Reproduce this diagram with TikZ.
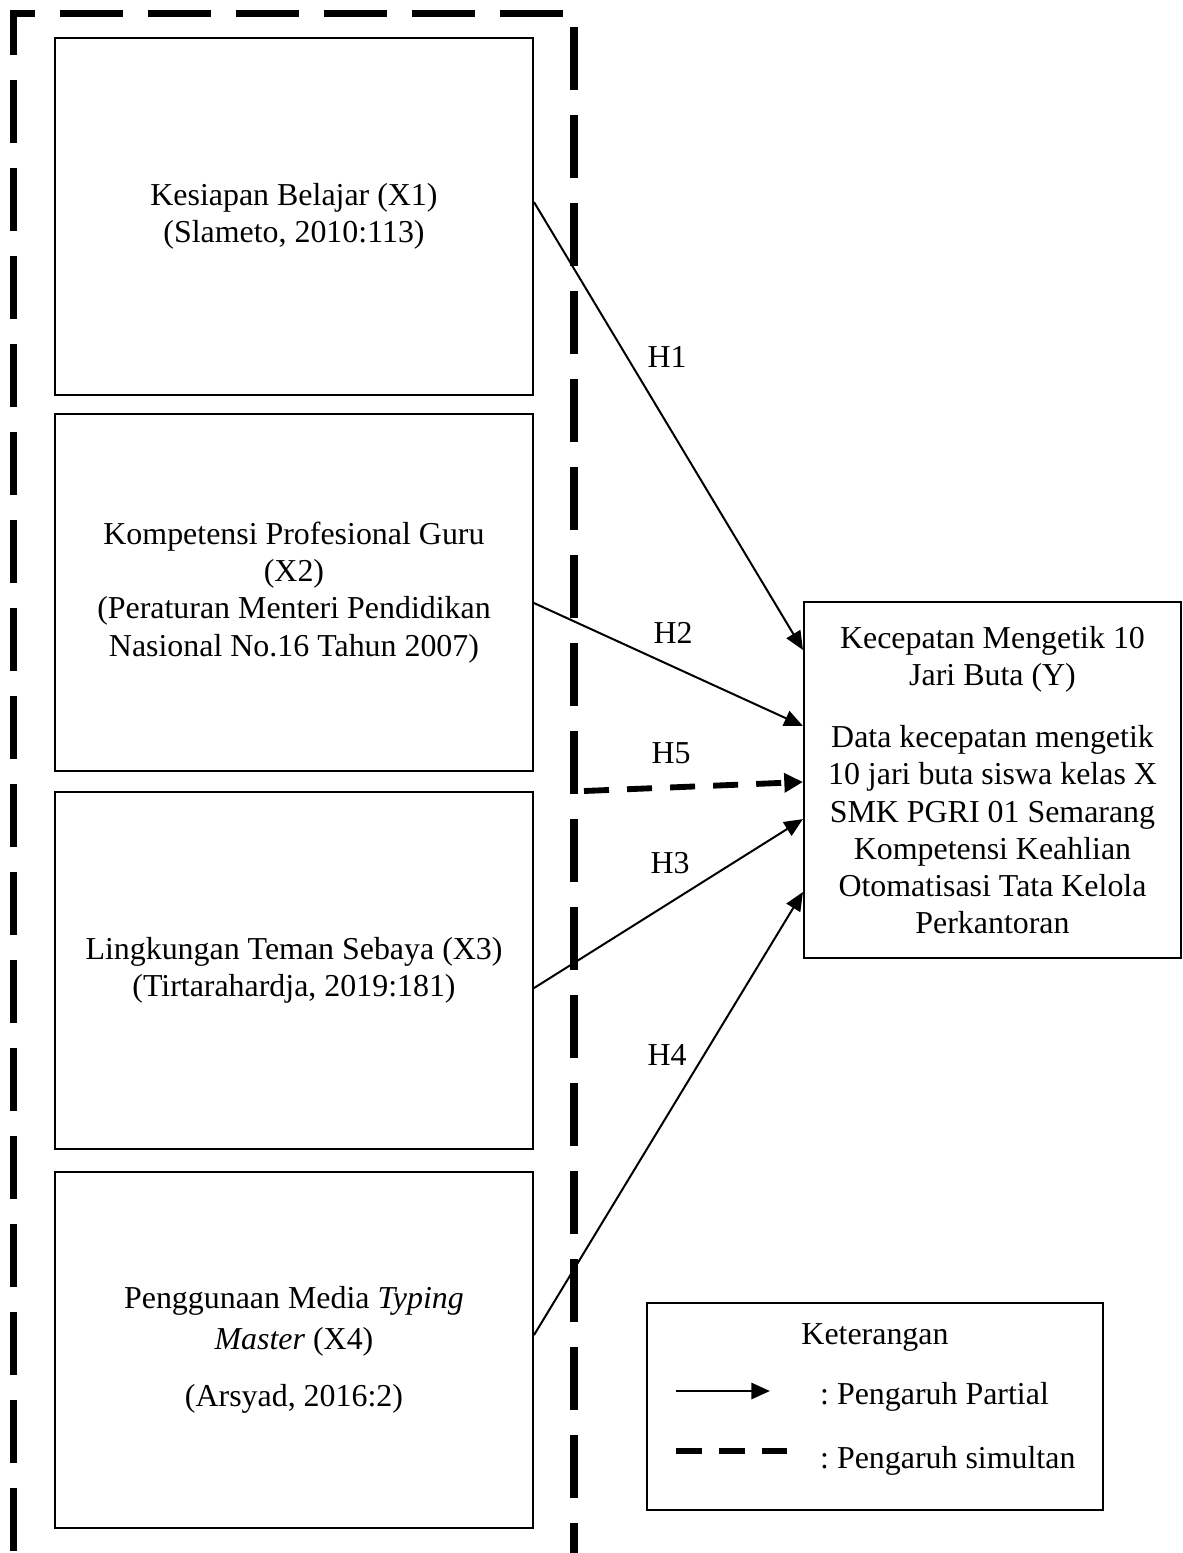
\documentclass[tikz,border=0pt,12pt]{standalone}
\usepackage{fontspec}
\setmainfont{Liberation Serif}
\usetikzlibrary{arrows.meta,positioning}
\tikzstyle{arrow} = [->,>={Triangle[length=7pt,width=6pt]},line width=0.75pt]
\tikzstyle{simarrow} = [->,>={Triangle[length=7pt,width=7pt]},line width=2.2pt,dash pattern=on 9.4pt off 6.8pt]
\tikzstyle{varbox} = [rectangle, draw, line width=0.75pt, minimum width=179.7pt, minimum height=133.9pt, align=center, font=\fontsize{12}{14}\selectfont]
\tikzstyle{outerframe} = [line width=2.8pt, dash pattern=on 23.688pt off 9.4pt, dash phase=29.704pt]
\tikzstyle{hlabel} = [font=\fontsize{12}{14}\selectfont]

\begin{document}
\begin{tikzpicture}[x=0.376pt,y=-0.376pt]
\useasboundingbox (0,0) rectangle (1183,1553);
% dashed frame
\draw[outerframe] (13.5,1560) -- (13.5,13.5) -- (574,13.5) -- (574,1560);

% variables
\node[varbox] (x1) at (294,216.5) {Kesiapan Belajar (X1)\\ (Slameto, 2010:113)};
\node[varbox] (x2) at (294,592.5) {Kompetensi Profesional Guru\\ (X2)\\ (Peraturan Menteri Pendidikan\\ Nasional No.16 Tahun 2007)};
\node[varbox] (x3) at (294,970.5) {Lingkungan Teman Sebaya (X3)\\ (Tirtarahardja, 2019:181)};
\node[varbox] (x4) at (294,1350) {Penggunaan Media \textit{Typing}\\[1.5pt] \textit{Master} (X4)\\[7.5pt] (Arsyad, 2016:2)};
\node[varbox, minimum width=141.8pt] (y) at (992.5,780) {Kecepatan Mengetik 10\\ Jari Buta (Y)\\[9.4pt] Data kecepatan mengetik\\ 10 jari buta siswa kelas X\\ SMK PGRI 01 Semarang\\ Kompetensi Keahlian\\ Otomatisasi Tata Kelola\\ Perkantoran};

\node[hlabel] (h1) at (667,357) {H1};
\node[hlabel] (h2) at (673,633) {H2};
\node[hlabel] (h5) at (671,753) {H5};
\node[hlabel] (h3) at (670,863) {H3};
\node[hlabel] (h4) at (667,1055) {H4};

\draw[arrow] ([yshift=5.45pt]x1.east) -- ([yshift=48.9pt]y.west);
\draw[arrow] ([yshift=-3.95pt]x2.east) -- ([yshift=20.3pt]y.west);
\coordinate (fr) at (584,791);
\draw[simarrow] (fr) -- ([yshift=-0.75pt]y.west);
\draw[arrow] ([yshift=-6.6pt]x3.east) -- ([yshift=-14.7pt]y.west);
\draw[arrow] ([yshift=5.6pt]x4.east) -- ([yshift=-42.1pt]y.west);

% legend
\node[rectangle, draw, line width=0.75pt, minimum width=171.5pt, minimum height=77.8pt] (ket) at (875,1406.5) {};
\node[hlabel, anchor=base] (kettitle) at (875,1344) {Keterangan};
\coordinate (pa) at (676,1391);
\coordinate (pb) at (770,1391);
\draw[arrow, line width=1.1pt] (pa) -- (pb);
\node[hlabel, anchor=base west] (partial) at (809,1404) {:\ Pengaruh Partial};
\coordinate (sa) at (676,1451);
\coordinate (sb) at (787,1451);
\draw[line width=2.2pt, dash pattern=on 9.8pt off 6.4pt] (sa) -- (sb);
\node[hlabel, anchor=base west] (simultan) at (809,1468) {:\ Pengaruh simultan};
\end{tikzpicture}
\end{document}
